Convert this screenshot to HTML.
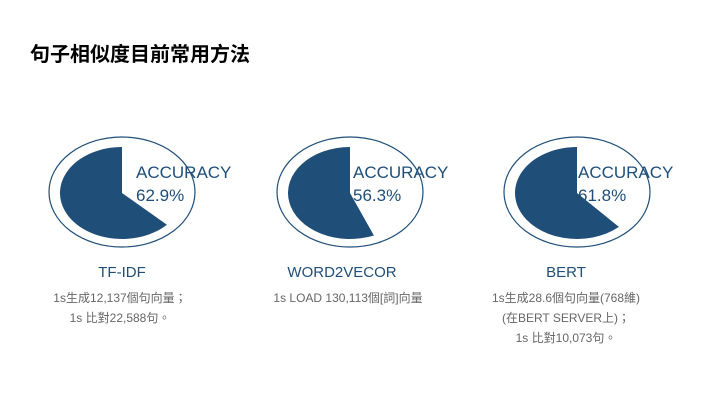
<!DOCTYPE html>
<html><head><meta charset="utf-8"><style>
body{margin:0;width:720px;height:405px;background:#fff;overflow:hidden;font-family:"Liberation Sans","Noto Sans CJK TC",sans-serif;position:relative}
.t{position:absolute;white-space:nowrap}
.title{left:30px;top:38px;font-size:20px;font-weight:bold;color:#000;font-family:"Noto Sans CJK TC",sans-serif}
.acc{font-size:17px;color:#1f4e79;line-height:23px}
.lab{font-size:15px;color:#1f4e79;transform:translateX(-50%)}
.sub{font-size:12px;color:#666;line-height:20px;text-align:center;transform:translateX(-50%)}
</style></head><body>
<div class="t title">句子相似度目前常用方法</div>
<svg id="c" width="720" height="405" style="position:absolute;left:0;top:0"></svg>
<div class="t acc" style="left:136px;top:161px">ACCURACY<br>62.9%</div>
<div class="t acc" style="left:353px;top:161px">ACCURACY<br>56.3%</div>
<div class="t acc" style="left:578px;top:161px">ACCURACY<br>61.8%</div>
<div class="t lab" style="left:122px;top:264px">TF-IDF</div>
<div class="t lab" style="left:342px;top:264px">WORD2VECOR</div>
<div class="t lab" style="left:566px;top:264px">BERT</div>
<div class="t sub" style="left:120px;top:288px">1s生成12,137個句向量；<br>1s 比對22,588句。</div>
<div class="t sub" style="left:348px;top:288px">1s LOAD 130,113個[詞]向量</div>
<div class="t sub" style="left:566px;top:288px">1s生成28.6個句向量(768維)<br>(在BERT SERVER上)；<br>1s 比對10,073句。</div>
<script>
const methods=["TF-IDF","WORD2VECOR","BERT"];
const accuracy=[62.9,56.3,61.8];
const svg=document.getElementById('c');
const NS='http://www.w3.org/2000/svg';
const cx=[122,350,577], cy=192;
accuracy.forEach((v,i)=>{
  const o=document.createElementNS(NS,'ellipse');
  o.setAttribute('cx',cx[i]);o.setAttribute('cy',cy);o.setAttribute('rx',73);o.setAttribute('ry',55);
  o.setAttribute('fill','none');o.setAttribute('stroke','#1f4e79');o.setAttribute('stroke-width','1.2');
  
  
  svg.appendChild(o);
  const rx=62,ry=46,pcy=cy+1;
  const a=(1-v/100)*2*Math.PI;
  const x1=cx[i]+rx*Math.sin(a), y1=pcy-ry*Math.cos(a);
  const large=v>50?1:0;
  const p=document.createElementNS(NS,'path');
  p.setAttribute('d',`M${cx[i]},${pcy} L${x1},${y1} A${rx},${ry} 0 ${large} 1 ${cx[i]},${pcy-ry} Z`);
  p.setAttribute('fill','#1f4e79');
  
  
  svg.appendChild(p);
});
</script>
</body></html>
